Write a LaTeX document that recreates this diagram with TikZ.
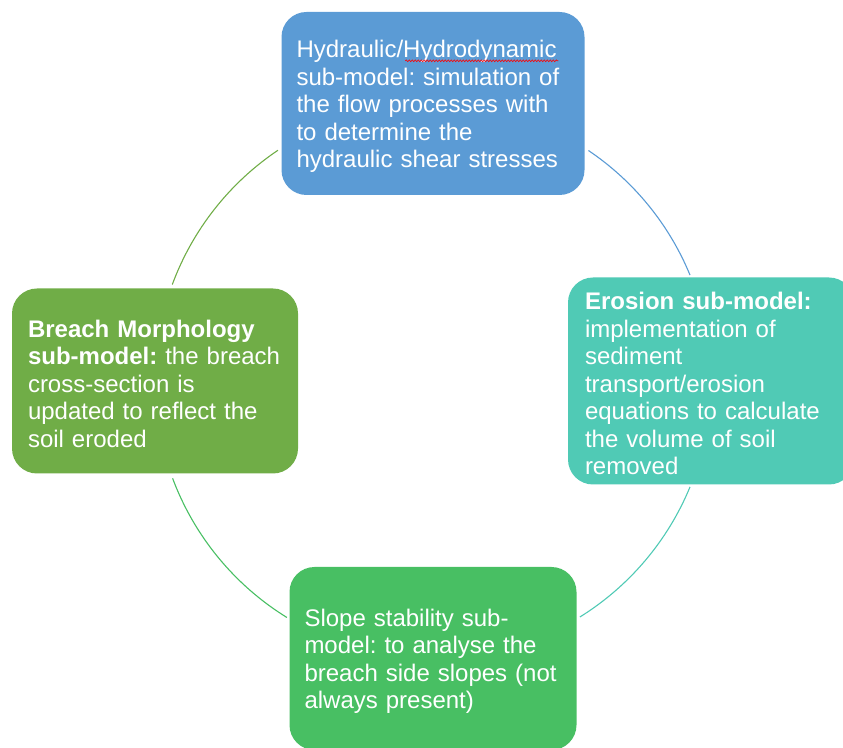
\documentclass[tikz,border=0pt]{standalone}
\usepackage{fontspec}
\setmainfont{Liberation Sans}
\usetikzlibrary{calc, positioning, decorations.pathmorphing}
\definecolor{hydblue}{RGB}{91,155,213}
\definecolor{erotea}{RGB}{80,202,181}
\definecolor{slopegreen}{RGB}{72,191,99}
\definecolor{breachgreen}{RGB}{112,173,71}
\frenchspacing
\tikzset{
    submodel/.style={
        draw=none, rounded corners=25pt, align=left, text=white,
        inner xsep=15pt, inner ysep=4pt,
        font=\fontsize{24}{27.5}\selectfont,
        execute at begin node={\rule{0pt}{23pt}}
    },
    cyclearc/.style={line width=1.1pt},
    spellmark/.style={red, line width=0.6pt,
        decorate, decoration={snake, amplitude=0.9pt, segment length=3pt}
    }
}

\begin{document}
\begin{tikzpicture}[x=1pt, y=1pt]
    \def \R {278pt}
    \useasboundingbox (0,0) rectangle (843,747);
    \clip (0,0) rectangle (843,747);
    \coordinate (c) at (433,366);
    % the four sub-models, one on each side of the cycle
    \node[submodel, fill=hydblue, text width=273pt, minimum height=183pt] (hyd) at ($(c)+(90:277.5pt)$)
        {Hydraulic/Hydrodynamic\\sub-model: simulation of\\the flow processes with\\to determine the\\hydraulic shear stresses};
    \node[submodel, fill=erotea, inner xsep=17pt, text width=252pt, minimum height=207pt] (ero) at ($(c)+(0:\R)$)
        {\textbf{Erosion sub-model:}\\implementation of\\sediment\\transport/erosion\\equations to calculate\\the volume of soil\\removed};
    \node[submodel, fill=slopegreen, text width=257pt, minimum height=183pt] (slope) at ($(c)+(270:277.5pt)$)
        {Slope stability sub-\\model: to analyse the\\breach side slopes (not\\always present)};
    \node[submodel, fill=breachgreen, inner xsep=16pt, text width=254pt, minimum height=185pt] (breach) at ($(c)+(180:\R)$)
        {\textbf{Breach Morphology}\\\textbf{sub-model:} the breach\\cross-section is\\updated to reflect the\\soil eroded};
    % spell-check underline
    \draw[spellmark] ($(hyd.north west)+(124,-49)$) -- ($(hyd.north west)+(277,-49)$);
    % arcs of the cycle, coloured after the box they leave
    \coordinate (hyd out) at ($(c)+(56:\R)$);
    \coordinate (ero out) at ($(c)+(-22.4:\R)$);
    \coordinate (slope out) at ($(c)+(-121.7:\R)$);
    \coordinate (breach out) at ($(c)+(159.7:\R)$);
    \draw[cyclearc, hydblue] (hyd out) arc (56:22.4:\R);
    \draw[cyclearc, erotea] (ero out) arc (-22.4:-58.1:\R);
    \draw[cyclearc, slopegreen] (slope out) arc (-121.7:-159.5:\R);
    \draw[cyclearc, breachgreen] (breach out) arc (159.7:123.9:\R);
\end{tikzpicture}
\end{document}
